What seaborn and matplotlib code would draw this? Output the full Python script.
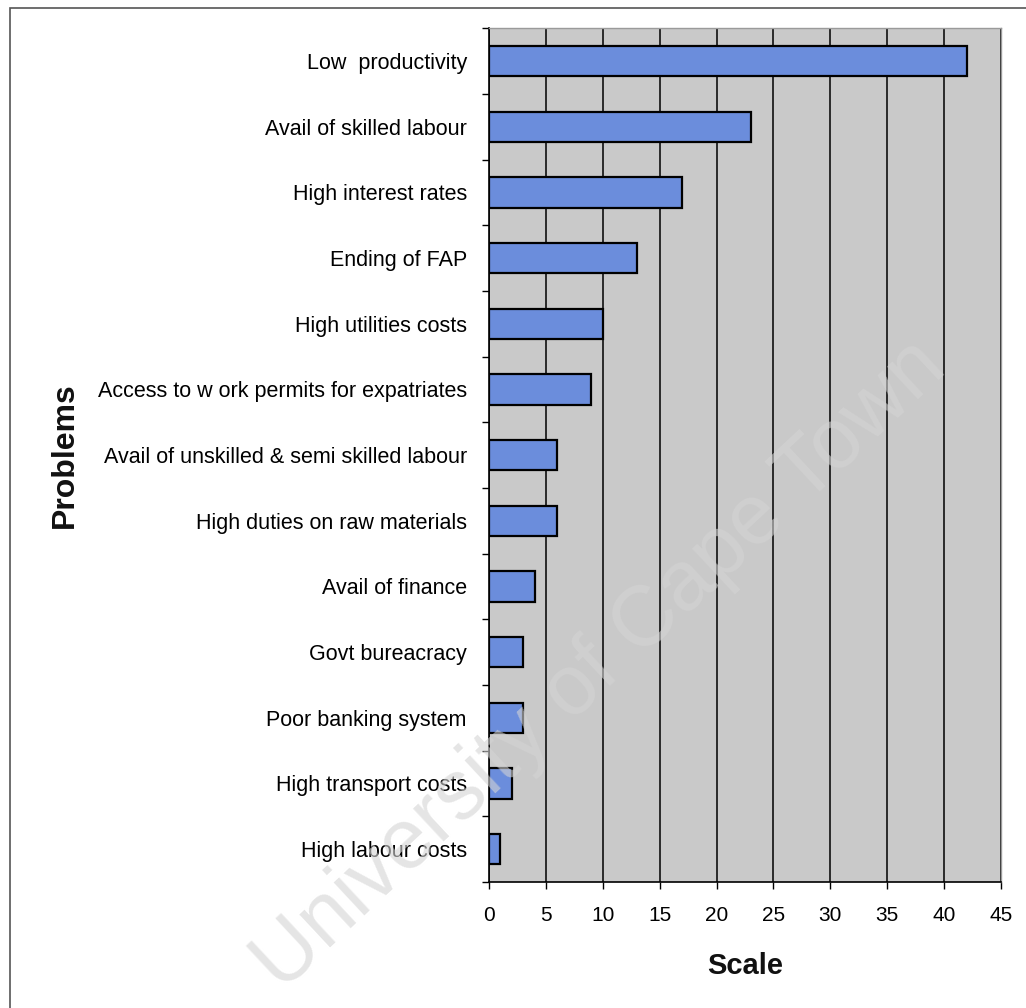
import numpy as np
import pandas as pd
import matplotlib
matplotlib.use("Agg")
import matplotlib.pyplot as plt
import seaborn as sns
from matplotlib.patches import Rectangle

problems = [
    "Low  productivity",
    "Avail of skilled labour",
    "High interest rates",
    "Ending of FAP",
    "High utilities costs",
    "Access to w ork permits for expatriates",
    "Avail of unskilled & semi skilled labour",
    "High duties on raw materials",
    "Avail of finance",
    "Govt bureacracy",
    "Poor banking system",
    "High transport costs",
    "High labour costs",
]
scores = [42, 23, 17, 13, 10, 9, 6, 6, 4, 3, 3, 2, 1]
x_ticks = [0, 5, 10, 15, 20, 25, 30, 35, 40, 45]

df = pd.DataFrame({"problem": problems, "score": scores})

sns.set_theme(style="white")
plt.rcParams["font.family"] = ["Liberation Sans", "DejaVu Sans"]

fig = plt.figure(figsize=(10.26, 10.08), dpi=100)
ax = fig.add_axes([0.4766, 0.125, 0.499, 0.847])

sns.barplot(data=df, x="score", y="problem", orient="h", color="#6b8ddc",
            saturation=1, width=0.46, edgecolor="black", linewidth=1.6, ax=ax,
            zorder=3)

ax.set_facecolor("#c9c9c9")
ax.set_xlim(0, 45)
ax.set_ylim(len(problems) - 0.5, -0.5)
ax.set_xticks(x_ticks)
ax.set_xticklabels([str(t) for t in x_ticks], fontsize=15, color="black")
ax.tick_params(axis="x", length=5, width=1, color="black", direction="out",
               bottom=True, pad=12)
ax.tick_params(axis="y", which="major", length=0, labelsize=15.5,
               labelcolor="black", pad=16)
ax.set_yticks(np.arange(-0.5, len(problems)), minor=True)
ax.tick_params(axis="y", which="minor", length=5, width=1, color="black",
               direction="out", left=True)
ax.grid(axis="x", color="black", linewidth=1.1, zorder=1)
ax.set_axisbelow(True)

for side in ["top", "right"]:
    ax.spines[side].set_color("#9a9a9a")
    ax.spines[side].set_linewidth(1)
for side in ["left", "bottom"]:
    ax.spines[side].set_color("black")
    ax.spines[side].set_linewidth(1.2)

ax.set_xlabel("Scale", fontsize=21, fontweight="bold", color="#111111",
              labelpad=20)
ax.set_ylabel("Problems", fontsize=23, fontweight="bold", color="#111111")
ax.yaxis.set_label_coords(-0.8, 0.5)

# thin frame around the whole chart
fig.patches.append(Rectangle((0.01, -0.01), 1.0, 1.002, transform=fig.transFigure,
                             fill=False, edgecolor="#555555", linewidth=1.2))

# faint watermark
fig.text(0.585, 0.34, "University of Cape Town", fontsize=61, color="#d4d4d4",
         alpha=0.6, rotation=43, ha="center", va="center", zorder=10)

fig.savefig("out.png", dpi=100)
